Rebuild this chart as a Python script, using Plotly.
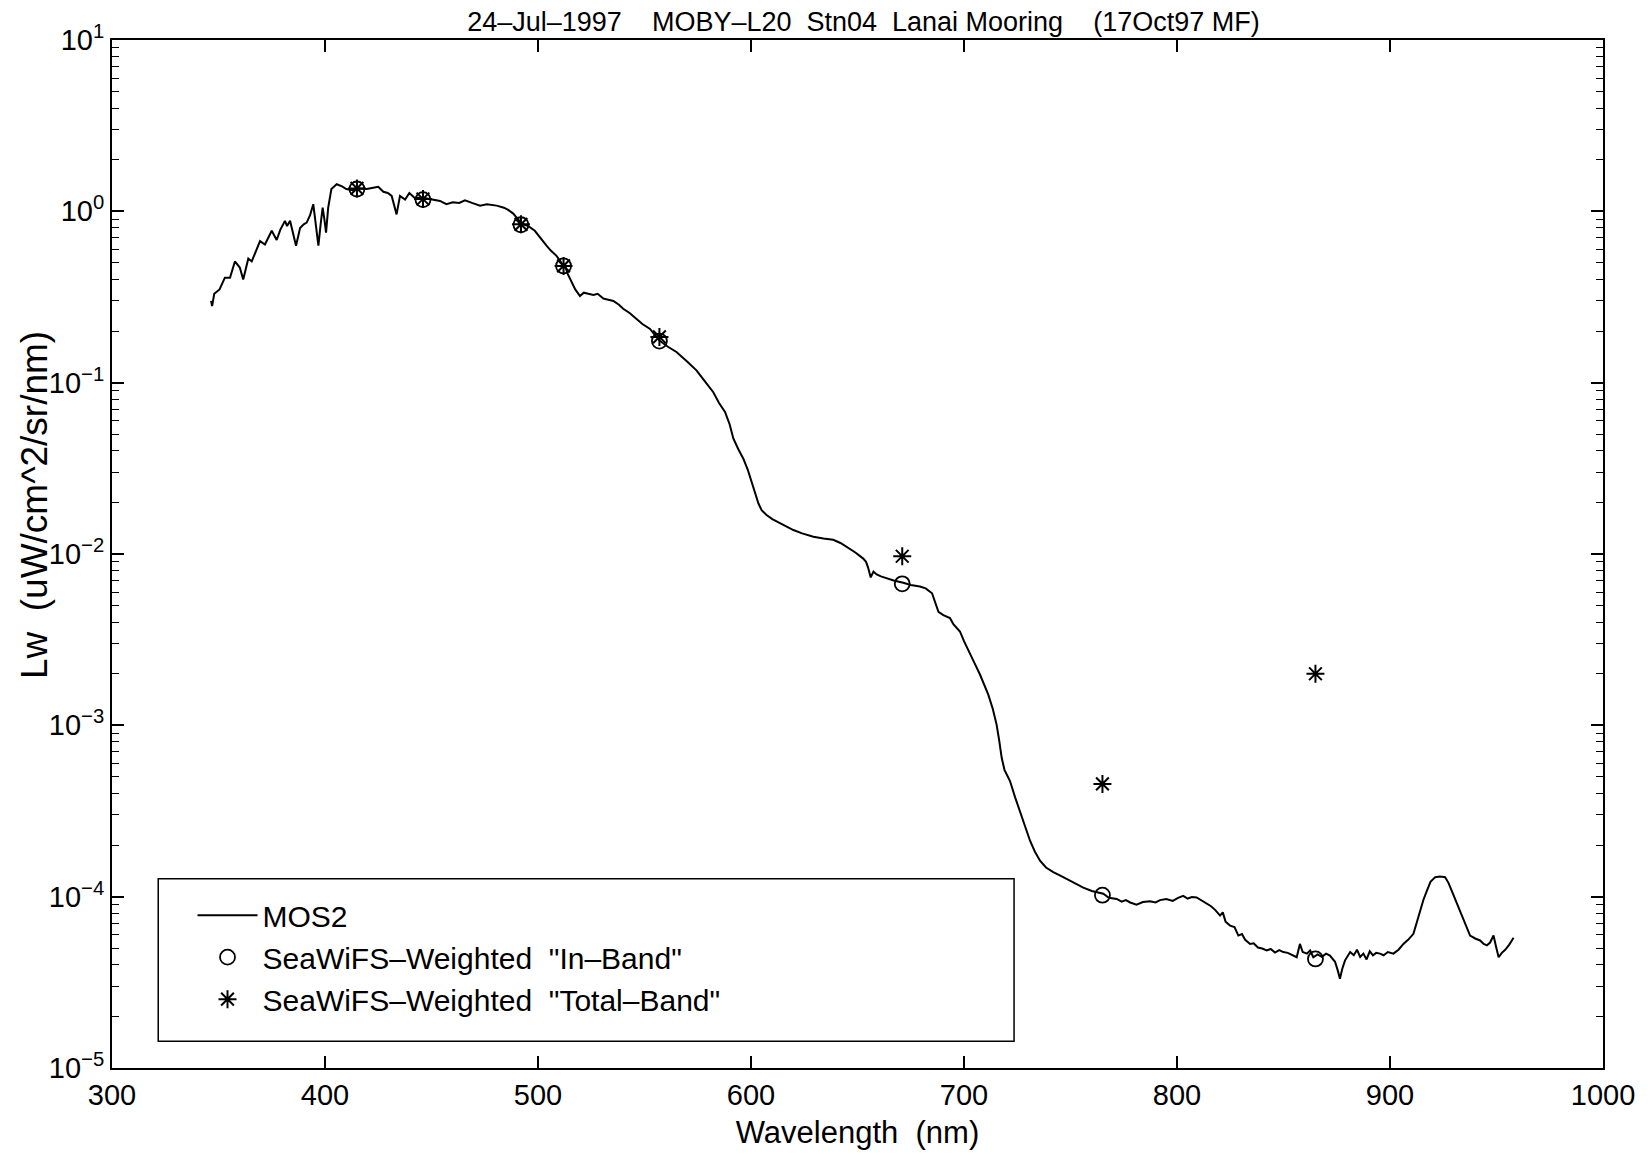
import plotly.graph_objects as go

# ---------------- data ----------------
wavelength = [346.5, 347, 348, 350.5, 353, 355.4, 357.7, 360, 361.6, 364, 365.6, 367.5, 369.5, 371.8,
              373.5, 375, 377.3, 379, 381.2, 382.2, 383.6, 385, 386.4, 388.3, 390, 391.4, 393, 394.5,
              395.7, 396.9, 398, 398.9, 399.7, 400.5, 401.5, 403, 405.5, 408, 410, 413, 416, 419.6,
              422, 425, 427.4, 429.5, 431.3, 433.6, 435.2, 437.6, 439.6, 442, 446, 450, 454, 457,
              460, 463, 465.7, 469, 472.8, 476, 480.6, 484, 486, 488.4, 490.5, 493, 495.5, 498.5,
              501, 504, 506, 508.7, 511, 512.7, 514, 515.8, 517.5, 519.7, 521.5, 523.6, 526, 528,
              530.7, 533, 535.4, 538, 540, 543, 546.3, 549, 552.6, 555, 557, 561, 565, 570, 574.4,
              578, 582.3, 585, 587.8, 590, 591.7, 594, 596.4, 598.5, 600.3, 602, 603.5, 605, 607.3,
              610, 613.6, 617, 619.9, 624, 629.3, 634, 638.6, 642, 645, 649, 652.7, 654, 655, 656.2,
              657.5, 659, 661, 663.7, 667, 671.5, 675, 679.3, 682, 685, 686.5, 688, 690.3, 693.4,
              695, 698.1, 700, 702.8, 705, 707.5, 709.5, 711.4, 713.5, 715.3, 716.5, 717.7, 719,
              721.6, 724, 726.3, 728.7, 731, 733.3, 735.7, 738.5, 741.9, 745, 748.2, 752, 756, 760,
              765.4, 768, 771.7, 774, 776, 778, 781, 784, 787.3, 790, 792, 795, 798, 800.5, 802.9,
              805, 807, 809.2, 811.5, 813.9, 816, 818, 820.2, 821.5, 822.8, 824.9, 827, 828.8, 830.5,
              832, 834.3, 836, 838, 840, 842.1, 844, 846, 848, 849.9, 852, 854, 856.2, 857.7, 859,
              861, 862.5, 864, 866, 868, 870, 871.8, 874.2, 875.5, 876.5, 877.6, 878.9, 881.3, 883,
              884.5, 886, 887.5, 889, 890.5, 892, 893.5, 895.3, 897, 899, 901.6, 904, 906.3, 908.5,
              911, 912.5, 914.1, 915.7, 917.3, 919, 921.2, 923.5, 925.9, 927.5, 929, 931.4, 932.8,
              934.5, 936, 937.6, 940, 942.3, 944, 945.5, 947, 948.6, 949.8, 951, 952.5, 954.1, 956,
              958]
lw_mos2 = [0.30, 0.28, 0.33, 0.35, 0.41, 0.41, 0.51, 0.47, 0.40, 0.53, 0.51, 0.58, 0.67, 0.64,
           0.70, 0.77, 0.68, 0.78, 0.88, 0.82, 0.88, 0.75, 0.63, 0.80, 0.84, 0.86, 0.95, 1.10,
           0.85, 0.63, 0.85, 1.05, 0.90, 0.75, 1.05, 1.35, 1.44, 1.40, 1.35, 1.33, 1.36, 1.35,
           1.37, 1.39, 1.30, 1.28, 1.23, 0.96, 1.23, 1.17, 1.28, 1.20, 1.20, 1.18, 1.15, 1.10,
           1.13, 1.12, 1.16, 1.12, 1.08, 1.10, 1.08, 1.05, 1.02, 0.97, 0.90, 0.84, 0.82, 0.77,
           0.70, 0.63, 0.59, 0.55, 0.50, 0.48, 0.43, 0.39, 0.35, 0.32, 0.335, 0.33, 0.325, 0.33,
           0.31, 0.305, 0.30, 0.285, 0.27, 0.255, 0.235, 0.22, 0.206, 0.19, 0.176, 0.162, 0.151,
           0.133, 0.118, 0.103, 0.088, 0.076, 0.0675, 0.057, 0.0472, 0.041, 0.036, 0.031, 0.0264,
           0.022, 0.0197, 0.018, 0.0169, 0.016, 0.0151, 0.0143, 0.0138, 0.0132, 0.0126, 0.0123,
           0.0121, 0.0116, 0.0110, 0.0102, 0.0094, 0.0090, 0.0083, 0.0073, 0.0079, 0.0076, 0.0074,
           0.0072, 0.0070, 0.0068, 0.0066, 0.00646, 0.0063, 0.0059, 0.0052, 0.0046, 0.0044,
           0.00423, 0.0039, 0.00353, 0.0031, 0.00259, 0.0023, 0.00198, 0.00172, 0.00151, 0.00125,
           0.00101, 0.00082, 0.000646, 0.00055, 0.000473, 0.00038, 0.000316, 0.00026, 0.000212,
           0.000183, 0.000162, 0.000148, 0.000139, 0.000133, 0.000127, 0.00012, 0.000113,
           0.000108, 0.000104, 0.0000985, 0.000097, 0.0000935, 0.0000955, 0.0000925, 0.0000898,
           0.000093, 0.000094, 0.0000925, 0.0000955, 0.000097, 0.0000945, 0.0000985, 0.000101,
           0.0000975, 0.0000995, 0.000099, 0.0000955, 0.000091, 0.000088, 0.0000835, 0.0000776,
           0.000081, 0.0000715, 0.0000678, 0.0000665, 0.0000593, 0.0000605, 0.000056, 0.000053,
           0.0000535, 0.0000505, 0.0000498, 0.0000485, 0.0000495, 0.0000472, 0.0000488,
           0.0000475, 0.000047, 0.0000455, 0.0000443, 0.000053, 0.0000475, 0.0000465, 0.0000485,
           0.0000443, 0.000046, 0.0000445, 0.0000465, 0.0000453, 0.0000417, 0.000037, 0.0000332,
           0.000038, 0.0000425, 0.0000475, 0.0000455, 0.000049, 0.0000445, 0.0000465, 0.000043,
           0.000048, 0.0000455, 0.000047, 0.0000465, 0.0000455, 0.0000475, 0.0000465, 0.000049,
           0.000053, 0.000056, 0.0000607, 0.00007, 0.000083, 0.000096, 0.000108, 0.000122,
           0.00013, 0.000131, 0.00013, 0.00012, 0.000108, 0.000091, 0.000082, 0.0000725, 0.000065,
           0.0000593, 0.000057, 0.0000555, 0.000053, 0.000052, 0.000054, 0.0000593, 0.000051,
           0.0000443, 0.000047, 0.000049, 0.0000525, 0.0000575]

band_wavelength = [415, 446, 492, 512, 557, 671, 765, 865]
lw_in_band = [1.35, 1.17, 0.835, 0.48, 0.175, 0.0067, 0.000102, 0.0000433]
lw_total_band = [1.36, 1.18, 0.84, 0.48, 0.185, 0.0097, 0.000455, 0.0020]

x_ticks = [300, 400, 500, 600, 700, 800, 900, 1000]
y_ticks = [1e-5, 1e-4, 1e-3, 1e-2, 1e-1, 1e0, 1e1]
y_ticktext = ["10<sup>\u22125</sup>", "10<sup>\u22124</sup>", "10<sup>\u22123</sup>",
              "10<sup>\u22122</sup>", "10<sup>\u22121</sup>", "10<sup>0</sup>", "10<sup>1</sup>"]

title_text = ("24\u2013Jul\u20131997\u00a0\u00a0\u00a0\u00a0MOBY\u2013L20\u00a0\u00a0Stn04\u00a0\u00a0"
              "Lanai Mooring\u00a0\u00a0\u00a0\u00a0(17Oct97 MF)")
x_title = "Wavelength\u00a0\u00a0(nm)"
y_title = "Lw\u00a0\u00a0(uW/cm^2/sr/nm)"
names = ["MOS2", "SeaWiFS\u2013Weighted\u00a0\u00a0\"In\u2013Band\"",
         "SeaWiFS\u2013Weighted\u00a0\u00a0\"Total\u2013Band\""]

FONT = "Liberation Sans, Arial, Helvetica, sans-serif"

fig = go.Figure()
fig.add_trace(go.Scatter(x=wavelength, y=lw_mos2, mode="lines", name=names[0],
                         line=dict(color="black", width=2)))
fig.add_trace(go.Scatter(x=band_wavelength, y=lw_in_band, mode="markers", name=names[1],
                         marker=dict(symbol="circle-open", size=15, color="black",
                                     line=dict(width=1.8, color="black"))))
fig.add_trace(go.Scatter(x=band_wavelength, y=lw_total_band, mode="markers", name=names[2],
                         marker=dict(symbol="asterisk-open", size=15, color="black",
                                     line=dict(width=2, color="black"))))

axis_common = dict(showline=True, linecolor="black", linewidth=2, mirror="ticks",
                   ticks="inside", tickcolor="black", tickwidth=1.5, ticklen=12,
                   showgrid=False, zeroline=False,
                   tickfont=dict(family=FONT, size=29, color="black"))

fig.update_xaxes(range=[300, 1000], tickvals=x_ticks, **axis_common,
                 title=dict(text=x_title, font=dict(family=FONT, size=31, color="black"),
                            standoff=12))
fig.update_yaxes(type="log", range=[-5, 1], tickvals=y_ticks, ticktext=y_ticktext,
                 **axis_common,
                 minor=dict(ticks="inside", ticklen=7, tickwidth=1.3, tickcolor="black",
                            dtick="D1", showgrid=False))

# y-axis title (placed as in the reference, slightly above the plot centre)
fig.add_annotation(text=y_title, xref="paper", yref="paper", x=-0.052, y=0.548,
                   xanchor="center", yanchor="middle", textangle=-90, showarrow=False,
                   font=dict(family=FONT, size=37, color="black"))

# legend frame
fig.add_shape(type="rect", xref="paper", yref="paper", x0=0.031, x1=0.605, y0=0.026, y1=0.184,
              line=dict(color="black", width=1.5), fillcolor="rgba(0,0,0,0)", layer="above")

fig.update_layout(
    width=1640, height=1148,
    margin=dict(l=104, r=45, t=29, b=88),
    paper_bgcolor="white", plot_bgcolor="white",
    title=dict(text=title_text, x=0.504, xref="paper", xanchor="center",
               y=1.0, yref="container", yanchor="top", pad=dict(t=4, b=0),
               font=dict(family=FONT, size=27, color="black")),
    showlegend=True,
    legend=dict(x=0.054, y=0.174, xanchor="left", yanchor="top",
                bgcolor="rgba(0,0,0,0)", borderwidth=0,
                font=dict(family=FONT, size=30, color="black"),
                itemwidth=60),
    font=dict(family=FONT, color="black"),
)

fig.write_html("out.html")
